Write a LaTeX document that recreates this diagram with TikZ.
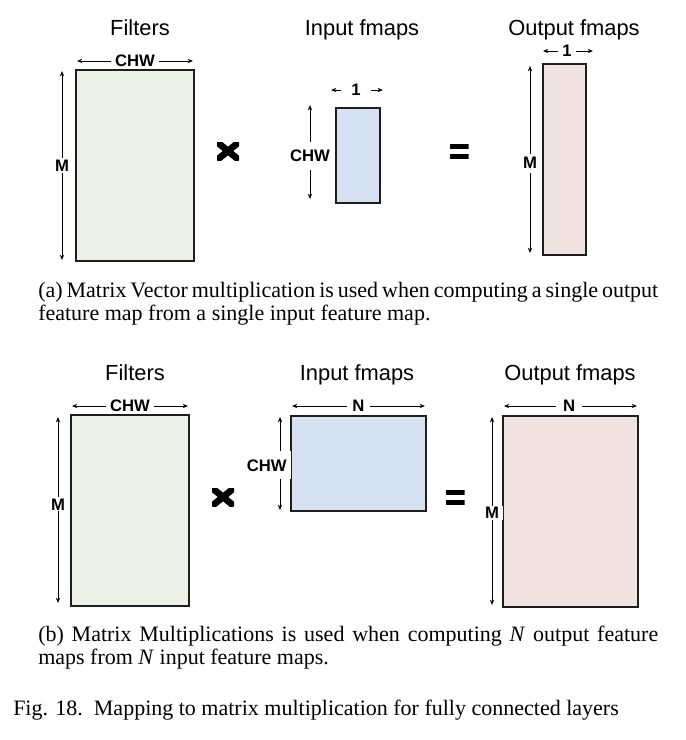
\documentclass[tikz,border=0pt]{standalone}
\usepackage{fontspec}
\setmainfont{Liberation Serif}
\setsansfont{Liberation Sans}
\usetikzlibrary{arrows.meta,positioning}
\definecolor{filterCol}{RGB}{238, 241, 232}
\definecolor{inputCol}{RGB}{214, 226, 241}
\definecolor{outputCol}{RGB}{242, 227, 227}
\definecolor{edgeCol}{RGB}{30, 30, 30}

\begin{document}
\begin{tikzpicture}[
    x=0.75pt, y=-0.75pt,
    font=\sffamily,
    >={Stealth[length=4pt,width=3.2pt]},
    % Matrix Box Style
    matBox/.style={
        draw=edgeCol,
        line width=1.1pt,
        inner sep=0pt,
        outer sep=0pt,
        anchor=north west
    },
    matSize/.style 2 args={minimum width=#1*0.75pt, minimum height=#2*0.75pt},
    % Title above each matrix
    matTitle/.style={
        font=\sffamily\fontsize{16.4}{18}\selectfont,
        anchor=base
    },
    % Dimension arrows and their labels
    dimArrow/.style={<->, line width=0.6pt, draw=black},
    dimLabel/.style={
        fill=white,
        font=\sffamily\bfseries\fontsize{12.5}{14}\selectfont,
        inner xsep=3pt,
        inner ysep=1pt
    },
    % Operator signs
    timesSign/.style={
        minimum width=16.5pt, minimum height=13.5pt, inner sep=0pt,
        path picture={
            \draw[line width=5pt]
                (path picture bounding box.north west) -- (path picture bounding box.south east)
                (path picture bounding box.south west) -- (path picture bounding box.north east);
        }
    },
    eqSign/.style={
        minimum width=14.25pt, minimum height=11.25pt, inner sep=0pt,
        path picture={
            \fill (path picture bounding box.north west) rectangle ([yshift=-3.75pt]path picture bounding box.north east);
            \fill ([yshift=3.75pt]path picture bounding box.south west) rectangle (path picture bounding box.south east);
        }
    },
    % Caption text (anchored at the baseline of its last line)
    capText/.style={
        font=\rmfamily\fontsize{16.5}{16.8}\selectfont,
        align=left,
        inner sep=0pt,
        anchor=base west
    }
]

    % Page frame
    \fill[white] (0,0) rectangle (686,740);
    \useasboundingbox (0,0) rectangle (686,740);

    % ---------------- (a) Matrix Vector ----------------
    \node[matBox, matSize={118}{191}, fill=filterCol] (FA) at (76,70) {};
    \node[matBox, matSize={44}{95}, fill=inputCol] (IA) at (336,108) {};
    \node[matBox, matSize={43}{191}, fill=outputCol] (OA) at (543,64) {};

    \node[matTitle] (tFA) at (140,35) {Filters};
    \node[matTitle] (tIA) at (362,35) {Input fmaps};
    \node[matTitle] (tOA) at (574,35) {Output fmaps};

    \node[timesSign] (xA) at (228,151) {};
    \node[eqSign] (eqA) at (459,151) {};

    % Filters dimensions
    \draw[dimArrow] ([shift={(1,-9)}]FA.north west) -- ([shift={(-1,-9)}]FA.north east)
        node[midway, dimLabel] {CHW};
    \draw[dimArrow] ([shift={(-14,1)}]FA.north west) -- ([shift={(-14,-1)}]FA.south west)
        node[midway, dimLabel] {M};

    % Input dimensions
    \draw[dimArrow] ([shift={(-5,-18)}]IA.north west) -- ([shift={(3,-18)}]IA.north east)
        node[pos=0.48, dimLabel, inner xsep=7.5pt] {1};
    \draw[dimArrow] ([shift={(-26,-3)}]IA.north west) -- ([shift={(-26,-4)}]IA.south west)
        node[pos=0.54, dimLabel, inner ysep=6pt] {CHW};

    % Output dimensions
    \draw[dimArrow] ([shift={(0,-13)}]OA.north west) -- ([shift={(7,-13)}]OA.north east)
        node[pos=0.48, dimLabel] {1};
    \draw[dimArrow] ([shift={(-13,2)}]OA.north west) -- ([shift={(-13,-2)}]OA.south west)
        node[pos=0.52, dimLabel, inner ysep=3pt] {M};

    \node[capText] (capA) at (38,320) {\makebox[465pt][s]{(a) Matrix Vector multiplication is used when computing a single output}\\feature map from a single input feature map.};

    % ---------------- (b) Matrix Multiplication ----------------
    \node[matBox, matSize={118}{191}, fill=filterCol] (FB) at (71,415) {};
    \node[matBox, matSize={135}{95}, fill=inputCol] (IB) at (291,416) {};
    \node[matBox, matSize={135}{191}, fill=outputCol] (OB) at (503,416) {};

    \node[matTitle] (tFB) at (135,380) {Filters};
    \node[matTitle] (tIB) at (357,380) {Input fmaps};
    \node[matTitle] (tOB) at (570,380) {Output fmaps};

    \node[timesSign] (xB) at (223,497) {};
    \node[eqSign] (eqB) at (455,497) {};

    % Filters dimensions
    \draw[dimArrow] ([shift={(1,-9)}]FB.north west) -- ([shift={(-1,-9)}]FB.north east)
        node[midway, dimLabel] {CHW};
    \draw[dimArrow] ([shift={(-13,2)}]FB.north west) -- ([shift={(-13,-3)}]FB.south west)
        node[pos=0.47, dimLabel] {M};

    % Input dimensions
    \draw[dimArrow] ([shift={(1,-10)}]IB.north west) -- ([shift={(-1,-10)}]IB.north east)
        node[midway, dimLabel, inner xsep=4pt] {N};
    \draw[dimArrow] ([shift={(-11,1)}]IB.north west) -- ([shift={(-11,-1)}]IB.south west)
        node[pos=0.52, xshift=-10pt, dimLabel, inner ysep=6pt] {CHW};

    % Output dimensions
    \draw[dimArrow] ([shift={(1,-10)}]OB.north west) -- ([shift={(-1,-10)}]OB.north east)
        node[pos=0.49, dimLabel, inner xsep=5pt] {N};
    \draw[dimArrow] ([shift={(-11,1)}]OB.north west) -- ([shift={(-11,-2)}]OB.south west)
        node[pos=0.51, dimLabel] {M};

    \node[capText] (capB) at (38,664) {\makebox[465pt][s]{(b) Matrix Multiplications is used when computing \textit{N} output feature}\\maps from \textit{N} input feature maps.};

    % Figure caption
    \node[capText] (figCap) at (13,715) {Fig. 18.\hspace{0.5em}Mapping to matrix multiplication for fully connected layers};

\end{tikzpicture}
\end{document}
